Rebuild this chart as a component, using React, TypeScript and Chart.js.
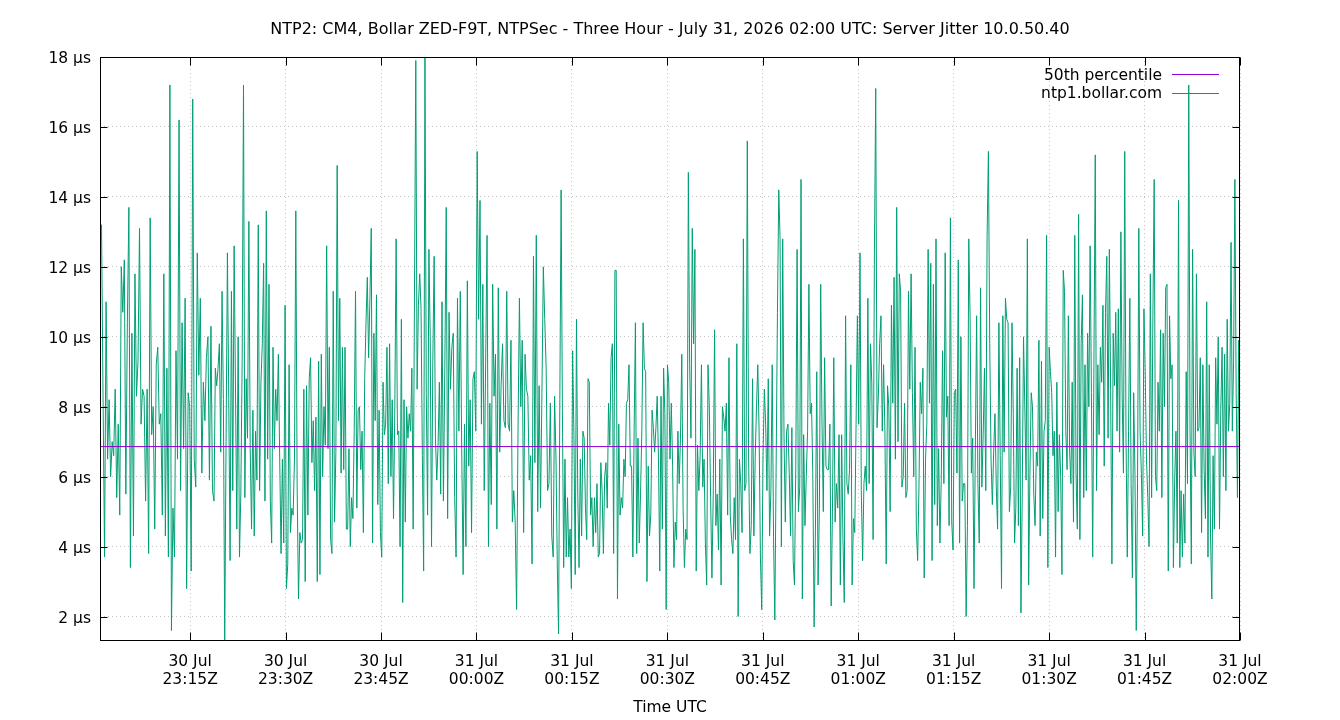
import React, { useEffect, useRef } from "react";
import { Chart, registerables } from "chart.js";

Chart.register(...registerables);

const chartTitle =
  "NTP2: CM4, Bollar ZED-F9T, NTPSec - Three Hour - July 31, 2026 02:00 UTC: Server Jitter 10.0.50.40";
const xAxisTitle = "Time UTC";
const seriesNames = ["50th percentile", "ntp1.bollar.com"];
const percentile50 = 6.86;

const startTime = Date.UTC(2026, 6, 30, 23, 0, 50);
const endTime = Date.UTC(2026, 6, 31, 2, 0, 0);

const xTickTimes = [
  Date.UTC(2026, 6, 30, 23, 15),
  Date.UTC(2026, 6, 30, 23, 30),
  Date.UTC(2026, 6, 30, 23, 45),
  Date.UTC(2026, 6, 31, 0, 0),
  Date.UTC(2026, 6, 31, 0, 15),
  Date.UTC(2026, 6, 31, 0, 30),
  Date.UTC(2026, 6, 31, 0, 45),
  Date.UTC(2026, 6, 31, 1, 0),
  Date.UTC(2026, 6, 31, 1, 15),
  Date.UTC(2026, 6, 31, 1, 30),
  Date.UTC(2026, 6, 31, 1, 45),
  Date.UTC(2026, 6, 31, 2, 0),
];
const xTickLabels = [
  ["30 Jul", "23:15Z"],
  ["30 Jul", "23:30Z"],
  ["30 Jul", "23:45Z"],
  ["31 Jul", "00:00Z"],
  ["31 Jul", "00:15Z"],
  ["31 Jul", "00:30Z"],
  ["31 Jul", "00:45Z"],
  ["31 Jul", "01:00Z"],
  ["31 Jul", "01:15Z"],
  ["31 Jul", "01:30Z"],
  ["31 Jul", "01:45Z"],
  ["31 Jul", "02:00Z"],
];
const yTickValues = [2, 4, 6, 8, 10, 12, 14, 16, 18];
const yMin = 1.3;
const yMax = 18;

// Server jitter (µs) in ten consecutive time slices
const jitterSeg01 = [
  13.2, 13.2, 8.3, 3.7, 11.0, 6.5, 8.2, 6.0, 7.0, 6.6,
  8.5, 5.4, 7.5, 4.9, 12.0, 10.7, 12.2, 5.5, 10.4, 13.7,
  3.4, 10.1, 4.3, 11.8, 8.3, 9.3, 13.1, 7.5, 8.5, 8.3,
  5.3, 8.5, 3.8, 13.4, 7.2, 8.0, 4.5, 9.2, 9.7, 7.5,
  7.8, 4.9, 11.8, 4.3, 9.1, 3.7, 17.2, 1.6, 5.1, 3.7,
  9.6, 6.5, 16.2, 5.6, 10.4, 6.8, 11.1, 2.8, 8.4, 8.0,
  3.3, 16.8, 6.5, 5.7, 12.4, 8.9, 11.1, 6.1, 8.7, 7.6,
  9.4, 10.0, 5.9, 10.3, 5.6,
];
const jitterSeg02 = [
  5.3, 9.1, 8.6, 9.1, 9.8, 6.7, 11.3, 8.2, 1.3, 7.0,
  12.4, 8.2, 3.6, 11.3, 5.6, 12.6, 8.6, 4.5, 10.0, 3.7,
  5.5, 9.3, 17.2, 5.4, 8.8, 7.1, 13.3, 6.8, 4.5, 7.9,
  4.3, 7.3, 5.9, 13.2, 5.6, 8.7, 9.8, 12.1, 5.3, 13.6,
  6.5, 11.5, 5.3, 4.1, 9.7, 6.8, 8.5, 7.6, 9.5, 6.5,
  3.8, 6.5, 4.1, 10.9, 2.8, 3.5, 9.2, 4.4, 5.1, 4.9,
  6.5, 13.6, 5.7, 2.5, 4.4, 4.1, 4.2, 8.5, 3.0, 8.6,
  4.9, 8.8, 9.4, 6.4, 7.6, 5.6, 7.7, 3.0, 9.3, 3.2,
  9.5, 6.0, 8.0, 6.9, 12.6,
];
const jitterSeg03 = [
  6.8, 9.7, 4.2, 3.8, 11.3, 4.7, 6.7, 14.9, 7.6, 11.1,
  6.1, 9.7, 6.2, 9.7, 4.5, 4.5, 6.8, 4.0, 5.4, 4.8,
  7.3, 11.3, 5.1, 7.9, 8.0, 6.2, 7.3, 4.4, 8.8, 10.4,
  11.7, 9.4, 11.1, 13.1, 4.1, 10.1, 7.6, 11.2, 5.2, 7.9,
  4.4, 3.7, 8.7, 7.2, 7.5, 9.7, 5.8, 9.8, 6.0, 8.2,
  4.8, 8.0, 12.8, 7.2, 7.3, 4.0, 10.5, 2.4, 8.2, 4.7,
  8.0, 7.1, 7.8, 7.3, 9.1, 4.5, 11.2, 17.9, 8.5, 10.9,
  11.8, 10.8, 6.6, 3.3, 18.0, 8.4, 4.9, 12.5, 10.0, 4.0,
  9.3, 12.3, 7.1, 5.9, 6.9, 8.7, 5.5,
];
const jitterSeg04 = [
  11.0, 5.3, 9.1, 13.7, 4.8, 10.7, 8.5, 9.7, 10.1, 5.4,
  3.7, 11.1, 7.3, 11.3, 6.8, 3.2, 7.5, 4.0, 11.6, 6.3,
  8.2, 4.4, 8.8, 9.0, 7.3, 15.3, 10.5, 13.9, 7.5, 11.5,
  5.6, 9.2, 12.9, 4.0, 8.1, 5.2, 11.5, 8.3, 9.5, 4.5,
  11.4, 6.7, 8.6, 9.8, 7.6, 7.4, 11.3, 7.5, 7.3, 9.9,
  4.7, 5.6, 4.7, 2.2, 7.3, 11.1, 8.0, 9.9, 4.4, 9.5,
  8.5, 8.3, 5.9, 6.6, 3.5, 12.3, 6.4, 12.9, 5.0, 8.6,
  5.1, 8.4, 12.0, 10.5, 9.1, 5.6, 5.8, 8.1, 4.3, 3.7,
  8.3,
];
const jitterSeg05 = [
  6.5, 3.5, 1.5, 8.2, 14.2, 7.9, 3.4, 6.5, 3.7, 5.4,
  3.7, 4.5, 2.8, 9.6, 7.2, 3.2, 10.5, 5.5, 3.4, 6.5,
  4.3, 7.3, 7.1, 5.1, 4.2, 8.8, 8.7, 4.9, 5.4, 4.0,
  5.4, 4.4, 5.8, 3.7, 3.8, 6.4, 5.6, 3.8, 6.0, 6.4,
  5.1, 8.1, 6.9, 9.4, 9.8, 3.8, 11.9, 11.9, 2.5, 7.5,
  4.9, 5.4, 5.1, 6.5, 6.0, 8.1, 8.2, 9.2, 6.3, 6.3,
  3.7, 7.3, 10.4, 3.8, 7.1, 4.1, 5.5, 7.3, 10.4, 9.1,
  9.0, 3.0, 6.3, 4.3, 4.9, 7.9, 7.4, 6.7, 7.4, 8.3,
  6.5, 3.3, 8.3, 4.5, 9.1, 7.8, 2.2, 9.2, 8.7,
];
const jitterSeg06 = [
  6.5, 8.1, 6.3, 3.4, 4.7, 4.2, 7.3, 5.8, 7.1, 9.5,
  5.1, 3.4, 4.5, 4.2, 14.7, 9.2, 7.1, 13.1, 9.8, 12.5,
  3.3, 6.9, 5.6, 6.6, 9.2, 5.7, 6.5, 4.1, 2.9, 9.2,
  8.0, 5.4, 3.1, 5.5, 10.2, 4.6, 5.5, 3.9, 6.5, 2.9,
  8.0, 7.7, 7.3, 8.1, 4.9, 9.4, 4.9, 4.2, 3.8, 5.4,
  4.2, 9.8, 2.0, 6.5, 5.8, 4.4, 12.8, 5.6, 5.8, 15.6,
  6.5, 3.8, 4.6, 8.8, 4.3, 6.5, 8.0, 9.2, 7.3, 3.7,
  2.2, 6.6, 8.5, 7.5, 5.6, 8.8, 4.3, 5.6, 9.2, 4.3,
  1.9, 6.3, 10.7, 14.2, 12.8, 4.0, 12.8,
];
const jitterSeg07 = [
  7.2, 4.7, 7.3, 7.5, 6.1, 4.3, 7.4, 3.6, 2.9, 6.3,
  12.5, 5.0, 5.7, 14.5, 2.5, 7.2, 4.6, 6.0, 7.3, 11.5,
  7.8, 8.1, 6.0, 1.7, 4.5, 9.0, 2.9, 5.1, 11.5, 7.5,
  5.0, 9.4, 6.3, 6.2, 6.2, 7.5, 2.3, 5.1, 9.4, 4.7,
  5.8, 5.1, 7.2, 2.9, 7.2, 4.2, 2.4, 10.6, 5.8, 5.5,
  6.2, 9.2, 2.9, 4.8, 4.4, 7.5, 10.6, 7.5, 12.4, 5.6,
  3.6, 5.8, 6.3, 5.6, 11.1, 5.8, 9.8, 8.7, 4.2, 12.4,
  17.1, 7.4, 8.3, 9.8, 10.6, 7.3, 9.2, 7.3, 3.5, 8.6,
  8.0, 5.0, 10.9, 8.1, 11.7, 6.5, 13.7,
];
const jitterSeg08 = [
  7.0, 11.8, 11.3, 5.7, 6.0, 8.1, 5.4, 5.6, 11.3, 8.5,
  11.8, 8.4, 6.0, 9.7, 4.5, 3.6, 5.7, 8.7, 7.8, 9.1,
  3.1, 6.5, 7.5, 12.5, 8.1, 12.1, 3.6, 11.5, 5.2, 12.8,
  4.6, 6.8, 4.1, 5.9, 9.6, 5.8, 12.4, 7.7, 8.3, 4.6,
  13.4, 4.7, 3.9, 8.4, 8.5, 6.1, 12.2, 4.1, 10.0, 5.3,
  5.8, 5.8, 2.0, 4.6, 12.8, 10.6, 6.1, 7.1, 2.8, 6.7,
  10.6, 5.8, 4.1, 11.4, 5.7, 7.2, 9.1, 5.6, 12.9, 15.3,
  9.8, 6.5, 5.2, 6.7, 7.8, 5.7, 4.5, 10.4, 6.6, 2.8,
  10.6, 6.7, 11.1, 10.5, 10.4, 5.0, 5.7,
];
const jitterSeg09 = [
  10.4, 7.8, 4.1, 5.1, 9.1, 4.6, 9.4, 2.1, 5.5, 10.0,
  8.0, 5.9, 12.8, 2.9, 6.1, 8.4, 8.0, 5.5, 4.6, 6.7,
  6.3, 9.9, 4.3, 9.3, 4.8, 7.3, 7.6, 12.9, 3.4, 9.7,
  9.0, 8.4, 6.6, 7.3, 3.7, 8.7, 5.0, 7.2, 6.0, 3.2,
  11.9, 11.3, 7.3, 6.2, 10.6, 6.7, 5.8, 8.7, 4.7, 12.9,
  6.1, 4.5, 13.5, 4.2, 9.8, 11.2, 5.4, 9.2, 5.6, 10.1,
  8.0, 12.6, 8.4, 3.7, 9.5, 15.2, 5.6, 9.2, 7.2, 9.7,
  8.7, 10.9, 6.3, 10.7, 12.3, 7.1, 12.5, 8.5, 3.5, 10.1,
  8.6, 10.7, 7.3, 10.8, 6.7, 13.0, 8.3, 6.1, 15.3,
];
const jitterSeg10 = [
  7.1, 3.7, 7.3, 11.1, 5.8, 3.1, 8.4, 6.1, 1.6, 5.8,
  13.1, 7.3, 6.1, 4.3, 10.8, 9.0, 6.5, 5.4, 4.0, 11.8,
  5.4, 10.6, 14.5, 6.0, 5.6, 8.7, 7.3, 10.2, 5.4, 10.1,
  8.0, 11.4, 11.5, 3.3, 10.6, 8.8, 9.2, 3.4, 5.9, 7.3,
  4.1, 13.9, 3.4, 5.6, 3.7, 5.5, 4.1, 9.0, 5.8, 17.2,
  7.3, 3.5, 12.5, 6.7, 6.0, 11.8, 7.3, 7.4, 9.4, 4.4,
  9.2, 6.2, 4.8, 11.0, 3.7, 9.2, 4.3, 2.5, 6.6, 4.5,
  9.4, 7.5, 10.0, 4.5, 7.9, 9.7, 6.0, 9.5, 5.6, 10.5,
  7.3, 8.1, 12.7, 7.3, 9.3, 14.5, 8.4, 5.4, 9.9, 5.1,
];

const jitterSegments = [
  jitterSeg01, jitterSeg02, jitterSeg03, jitterSeg04, jitterSeg05,
  jitterSeg06, jitterSeg07, jitterSeg08, jitterSeg09, jitterSeg10,
];

const FONT = '"DejaVu Sans", sans-serif';
const GREEN = "#009e73";
const PURPLE = "#9400d3";

function buildJitterPoints() {
  const segDur = (endTime - startTime) / jitterSegments.length;
  const pts: { x: number; y: number }[] = [];
  jitterSegments.forEach((seg, k) => {
    const last = k === jitterSegments.length - 1;
    seg.forEach((v, i) => {
      const frac = last ? i / (seg.length - 1) : i / seg.length;
      pts.push({ x: startTime + (k + frac) * segDur, y: v });
    });
  });
  return pts;
}

const decorPlugin = {
  id: "gnuplotDecor",
  afterDraw(chart: any) {
    const { ctx, chartArea: a, scales } = chart;
    ctx.save();
    const L = Math.round(a.left) + 0.5;
    const R = Math.round(a.right) - 0.5;
    const T = Math.round(a.top) + 0.5;
    const B = Math.round(a.bottom) - 0.5;

    // frame
    ctx.strokeStyle = "#000";
    ctx.lineWidth = 1;
    ctx.setLineDash([]);
    ctx.strokeRect(L, T, R - L, B - T);

    // inward ticks
    ctx.beginPath();
    yTickValues.forEach((v) => {
      const py = Math.round(scales.y.getPixelForValue(v)) + 0.5;
      ctx.moveTo(L, py);
      ctx.lineTo(L + 7, py);
      ctx.moveTo(R, py);
      ctx.lineTo(R - 7, py);
    });
    xTickTimes.forEach((t) => {
      const px = Math.round(scales.x.getPixelForValue(t)) + 0.5;
      ctx.moveTo(px, B);
      ctx.lineTo(px, B - 8);
      ctx.moveTo(px, T);
      ctx.lineTo(px, T + 8);
    });
    ctx.stroke();

    // titles
    ctx.fillStyle = "#000";
    ctx.textAlign = "center";
    ctx.textBaseline = "middle";
    ctx.font = `16px ${FONT}`;
    ctx.fillText(chartTitle, chart.width / 2, 30);
    ctx.font = `15.5px ${FONT}`;
    ctx.fillText(xAxisTitle, (a.left + a.right) / 2, 708);

    // legend (gnuplot style: text right-aligned, sample to the right)
    const colors = [PURPLE, GREEN];
    seriesNames.forEach((name, i) => {
      const y = a.top + 17 + i * 18.5;
      ctx.textAlign = "right";
      ctx.fillStyle = "#000";
      ctx.font = `15.5px ${FONT}`;
      ctx.fillText(name, a.right - 78, y + 1.5);
      ctx.strokeStyle = colors[i];
      ctx.lineWidth = 1;
      ctx.beginPath();
      ctx.moveTo(a.right - 68, Math.round(y) + 0.5);
      ctx.lineTo(a.right - 21, Math.round(y) + 0.5);
      ctx.stroke();
    });
    ctx.restore();
  },
};

export default function App() {
  const canvasRef = useRef<HTMLCanvasElement | null>(null);

  useEffect(() => {
    if (!canvasRef.current) return;
    const gridOpts = {
      color: "#c4c4c4",
      lineWidth: 1,
      drawTicks: false,
    };
    const chart = new Chart(canvasRef.current, {
      type: "line",
      data: {
        datasets: [
          {
            label: seriesNames[0],
            data: [
              { x: startTime, y: percentile50 },
              { x: endTime, y: percentile50 },
            ],
            borderColor: PURPLE,
            borderWidth: 1,
            pointRadius: 0,
            tension: 0,
          },
          {
            label: seriesNames[1],
            data: buildJitterPoints(),
            borderColor: GREEN,
            borderWidth: 1,
            pointRadius: 0,
            tension: 0,
          },
        ],
      },
      options: {
        responsive: false,
        animation: false,
        events: [],
        layout: { padding: { top: 57, right: 100, left: 0, bottom: 0 } },
        plugins: {
          legend: { display: false },
          title: { display: false },
          tooltip: { enabled: false },
        },
        scales: {
          x: {
            type: "linear",
            min: startTime,
            max: endTime,
            afterBuildTicks: (s: any) => {
              s.ticks = xTickTimes.map((v) => ({ value: v }));
            },
            afterFit: (s: any) => {
              s.height = 79;
            },
            grid: gridOpts,
            border: { display: false, dash: [1, 3] },
            ticks: {
              autoSkip: false,
              maxRotation: 0,
              minRotation: 0,
              padding: 12,
              color: "#000",
              font: { family: FONT, size: 15.5, lineHeight: 1.17 },
              callback: (_v: any, i: number) => xTickLabels[i],
            },
          },
          y: {
            type: "linear",
            min: yMin,
            max: yMax,
            afterBuildTicks: (s: any) => {
              s.ticks = yTickValues.map((v) => ({ value: v }));
            },
            afterFit: (s: any) => {
              s.width = 100;
            },
            grid: gridOpts,
            border: { display: false, dash: [1, 3] },
            ticks: {
              padding: 9,
              labelOffset: 2,
              color: "#000",
              font: { family: FONT, size: 15.5 },
              callback: (v: any) => `${v} µs`,
            },
          },
        },
      },
      plugins: [decorPlugin],
    } as any);
    return () => chart.destroy();
  }, []);

  return (
    <div
      style={{
        position: "fixed",
        left: 0,
        top: 0,
        width: 1340,
        height: 720,
        background: "#fff",
      }}
    >
      <canvas ref={canvasRef} width={1340} height={720} />
    </div>
  );
}
